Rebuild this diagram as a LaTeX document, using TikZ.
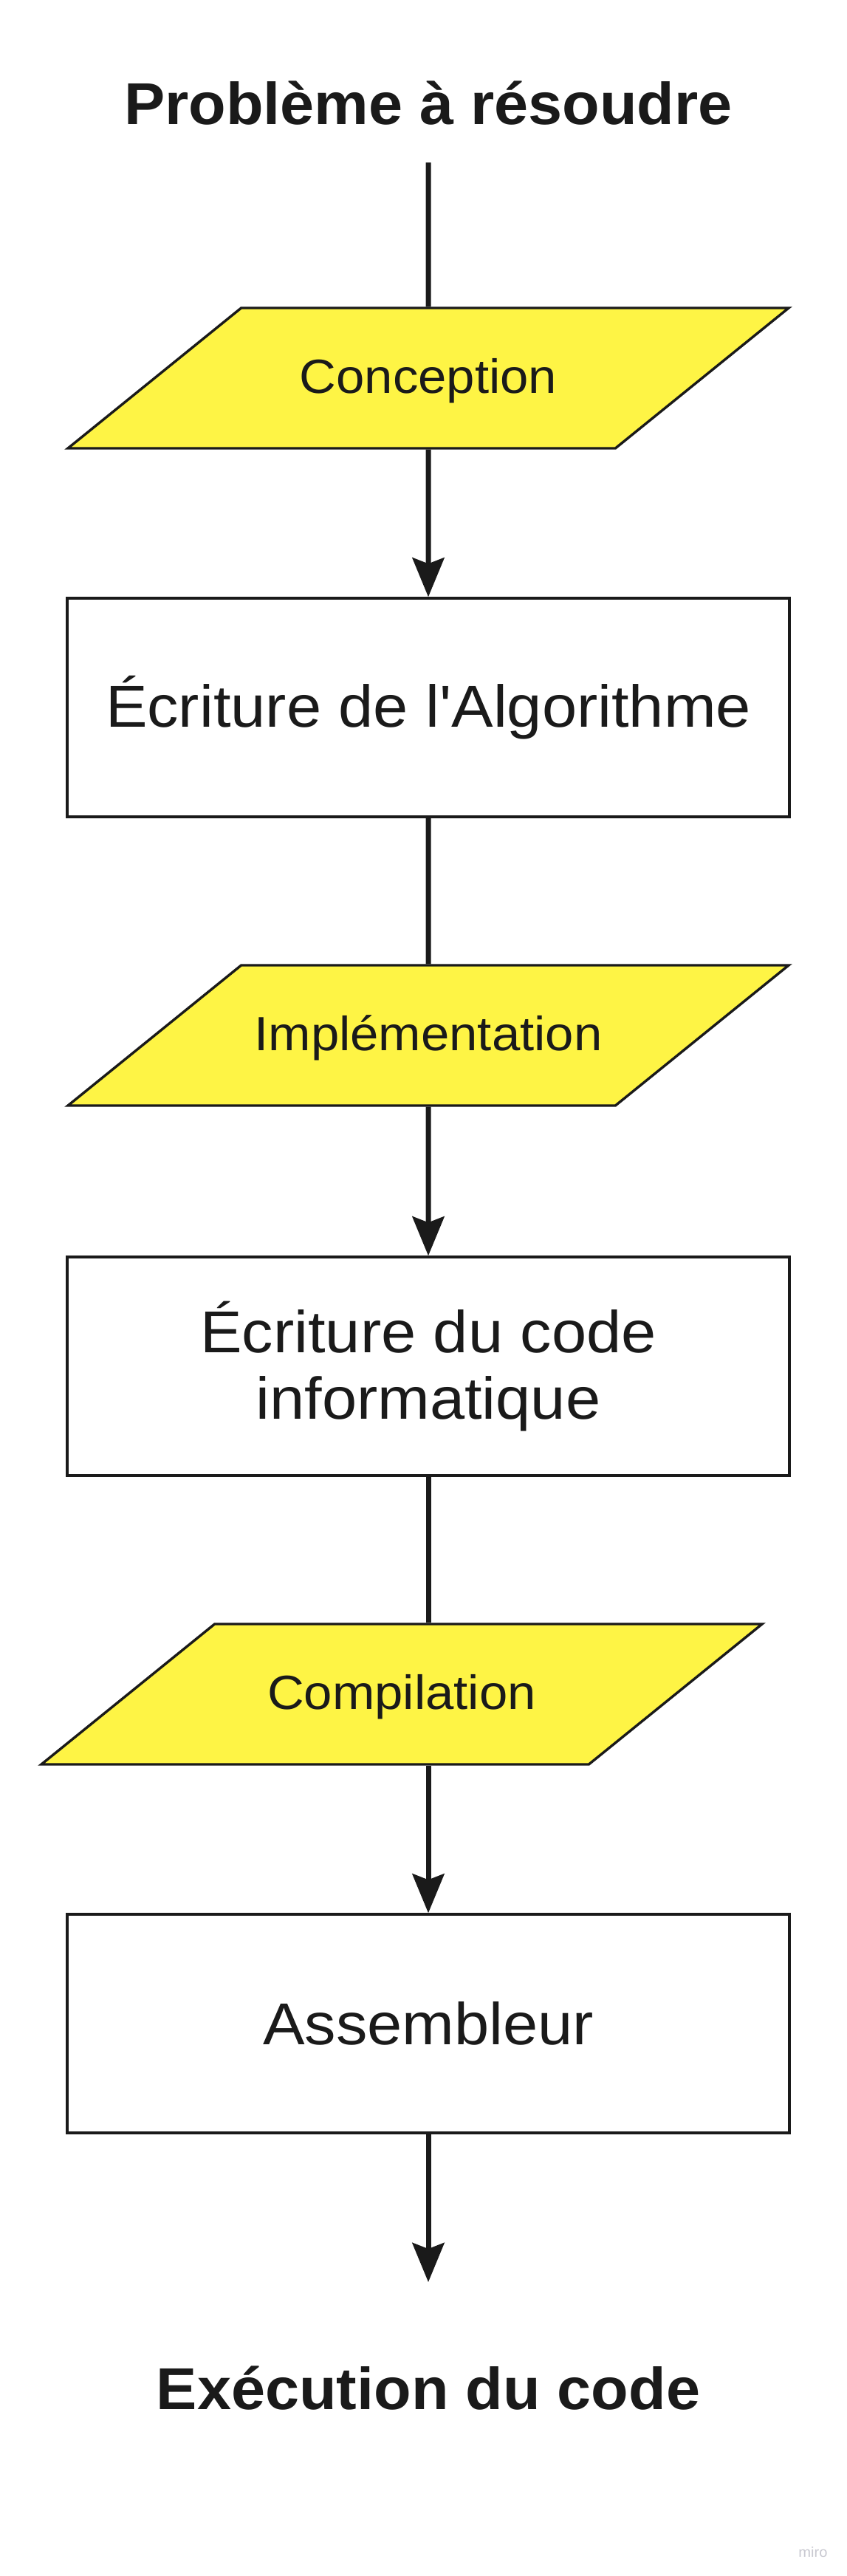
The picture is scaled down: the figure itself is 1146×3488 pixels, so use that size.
\documentclass[tikz,border=0pt]{standalone}
\usepackage{fontspec}
\setmainfont{Liberation Sans}[FakeStretch=1.06, Ligatures=TeXOff]
\newfontfamily\grasfont{Liberation Sans}[FakeStretch=1.035]
\usetikzlibrary{shapes.geometric,arrows.meta}
\definecolor{jaune}{HTML}{FEF445}
\definecolor{encre}{HTML}{1A1A1A}
\definecolor{filigrane}{HTML}{C9C9D1}
\tikzset{
  bloc/.style={draw=encre, line width=1.7pt, minimum width=489pt, minimum height=148pt,
    inner sep=0pt, text=encre, align=center, font=\fontsize{40pt}{45pt}\selectfont},
  etape/.style={trapezium, trapezium left angle=39, trapezium right angle=141,
    trapezium stretches body, draw=encre, fill=jaune, line width=1.7pt,
    text height=30pt, text depth=10pt, inner ysep=27.5pt, inner xsep=0pt,
    minimum width=488pt, text=encre, font=\fontsize{32.5pt}{36pt}\selectfont},
  titre/.style={inner sep=0pt, text=encre, font=\grasfont\bfseries\fontsize{40pt}{45pt}\selectfont},
  lien/.style={draw=encre, line width=3.5pt},
  fleche/.style={lien, -{Stealth[length=26.5pt, width=21.5pt, inset=4pt]}}
}
\begin{document}
\begin{tikzpicture}[x=0.5pt, y=-0.5pt]
  \fill[white] (0,0) rectangle (1146,3488);
  \useasboundingbox (0,0) rectangle (1146,3488);

  % etapes du haut vers le bas
  \node[titre, anchor=base] (probleme) at (580,169) {Problème à résoudre};
  \node[etape] (conception) at (580,512) {Conception};
  \node[bloc] (algo) at (580,958) {Écriture de l'Algorithme};
  \node[etape] (implementation) at (580,1402) {Implémentation};
  \node[bloc] (code) at (580,1850) {Écriture du code\\informatique};
  \node[etape] (compilation) at (544,2294) {Compilation};
  \node[bloc] (assembleur) at (580,2740) {Assembleur};
  \coordinate (fin) at (580,3090);
  \node[titre, anchor=base] (execution) at (580,3262) {Exécution du code};
  \node[anchor=base, inner sep=0pt, text=filigrane, font=\fontsize{9.5pt}{11pt}\selectfont] (miro) at (1101,3462) {miro};

  % liaisons
  \draw[lien, shorten <=25pt] (probleme.south) -- (conception.north);
  \draw[fleche] (conception.south) -- (algo.north);
  \draw[lien] (algo.south) -- (implementation.north);
  \draw[fleche] (implementation.south) -- (code.north);
  \draw[lien] (code.south) -- (code.south |- compilation.north);
  \draw[fleche] (code.south |- compilation.south) -- (assembleur.north);
  \draw[fleche] (assembleur.south) -- (fin);
\end{tikzpicture}
\end{document}
